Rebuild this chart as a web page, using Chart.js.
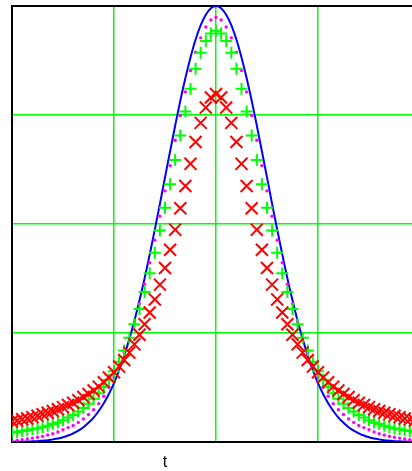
<!doctype html>
<html lang="en">
  <head>
    <title>Pulse shapes</title>
    <meta charset="UTF-8" />
    <script src="https://cdn.jsdelivr.net/npm/chart.js"></script>
    <style>
      html, body { margin: 0; padding: 0; overflow: hidden; background: #fff; }
      .wrap { position: relative; width: 430px; height: 471px; }
      .xlabel {
        position: absolute; left: 155px; top: 453px; width: 20px; text-align: center;
        font-family: 'Liberation Sans', Arial, sans-serif; font-size: 16px; color: #000;
      }
    </style>
  </head>
  <body>
    <div class="wrap">
      <canvas id="chart"></canvas>
      <div class="xlabel">t</div>
    </div>

    <script>
      // sample points along t
      const tValues = [
        -2, -1.95, -1.9, -1.85, -1.8, -1.75, -1.7, -1.65, -1.6, -1.55,
        -1.5, -1.45, -1.4, -1.35, -1.3, -1.25, -1.2, -1.15, -1.1, -1.05,
        -1, -0.95, -0.9, -0.85, -0.8, -0.75, -0.7, -0.65, -0.6, -0.55,
        -0.5, -0.45, -0.4, -0.35, -0.3, -0.25, -0.2, -0.15, -0.1, -0.05,
        0,
        0.05, 0.1, 0.15, 0.2, 0.25, 0.3, 0.35, 0.4, 0.45, 0.5,
        0.55, 0.6, 0.65, 0.7, 0.75, 0.8, 0.85, 0.9, 0.95, 1,
        1.05, 1.1, 1.15, 1.2, 1.25, 1.3, 1.35, 1.4, 1.45, 1.5,
        1.55, 1.6, 1.65, 1.7, 1.75, 1.8, 1.85, 1.9, 1.95, 2,
      ]

      // blue solid line
      const blueLine = [
        0.0003, 0.0005, 0.0007, 0.001, 0.0015, 0.002, 0.003, 0.004, 0.006, 0.008,
        0.011, 0.015, 0.02, 0.026, 0.034, 0.044, 0.056, 0.071, 0.089, 0.11,
        0.135, 0.164, 0.198, 0.236, 0.278, 0.325, 0.375, 0.43, 0.487, 0.546,
        0.607, 0.667, 0.726, 0.783, 0.835, 0.882, 0.923, 0.956, 0.98, 0.995,
        1,
        0.995, 0.98, 0.956, 0.923, 0.882, 0.835, 0.783, 0.726, 0.667, 0.607,
        0.546, 0.487, 0.43, 0.375, 0.325, 0.278, 0.236, 0.198, 0.164, 0.135,
        0.11, 0.089, 0.071, 0.056, 0.044, 0.034, 0.026, 0.02, 0.015, 0.011,
        0.008, 0.006, 0.004, 0.003, 0.002, 0.0015, 0.001, 0.0007, 0.0005, 0.0003,
      ]

      // magenta dots
      const magentaDots = [
        0.003, 0.004, 0.005, 0.007, 0.009, 0.011, 0.013, 0.016, 0.019, 0.023,
        0.028, 0.033, 0.038, 0.045, 0.053, 0.063, 0.074, 0.088, 0.105, 0.126,
        0.149, 0.175, 0.204, 0.238, 0.276, 0.317, 0.362, 0.411, 0.463, 0.518,
        0.576, 0.634, 0.692, 0.749, 0.803, 0.852, 0.894, 0.927, 0.952, 0.968,
        0.974,
        0.968, 0.952, 0.927, 0.894, 0.852, 0.803, 0.749, 0.692, 0.634, 0.576,
        0.518, 0.463, 0.411, 0.362, 0.317, 0.276, 0.238, 0.204, 0.175, 0.149,
        0.126, 0.105, 0.088, 0.074, 0.063, 0.053, 0.045, 0.038, 0.033, 0.028,
        0.023, 0.019, 0.016, 0.013, 0.011, 0.009, 0.007, 0.005, 0.004, 0.003,
      ]

      // green plus markers
      const greenPlus = [
        0.022, 0.023, 0.025, 0.027, 0.029, 0.031, 0.034, 0.037, 0.041, 0.045,
        0.05, 0.056, 0.062, 0.07, 0.078, 0.088, 0.099, 0.112, 0.126, 0.143,
        0.162, 0.184, 0.21, 0.239, 0.27, 0.305, 0.344, 0.387, 0.434, 0.485,
        0.537, 0.591, 0.647, 0.703, 0.758, 0.81, 0.856, 0.893, 0.92, 0.937,
        0.943,
        0.937, 0.92, 0.893, 0.856, 0.81, 0.758, 0.703, 0.647, 0.591, 0.537,
        0.485, 0.434, 0.387, 0.344, 0.305, 0.27, 0.239, 0.21, 0.184, 0.162,
        0.143, 0.126, 0.112, 0.099, 0.088, 0.078, 0.07, 0.062, 0.056, 0.05,
        0.045, 0.041, 0.037, 0.034, 0.031, 0.029, 0.027, 0.025, 0.023, 0.022,
      ]

      // red x markers
      const redCross = [
        0.047, 0.049, 0.052, 0.054, 0.057, 0.06, 0.064, 0.067, 0.071, 0.075,
        0.08, 0.085, 0.09, 0.096, 0.103, 0.11, 0.118, 0.127, 0.137, 0.148,
        0.16, 0.173, 0.188, 0.205, 0.224, 0.246, 0.27, 0.297, 0.327, 0.361,
        0.399, 0.441, 0.487, 0.536, 0.587, 0.638, 0.688, 0.732, 0.767, 0.79,
        0.798,
        0.79, 0.767, 0.732, 0.688, 0.638, 0.587, 0.536, 0.487, 0.441, 0.399,
        0.361, 0.327, 0.297, 0.27, 0.246, 0.224, 0.205, 0.188, 0.173, 0.16,
        0.148, 0.137, 0.127, 0.118, 0.11, 0.103, 0.096, 0.09, 0.085, 0.08,
        0.075, 0.071, 0.067, 0.064, 0.06, 0.057, 0.054, 0.052, 0.049, 0.047,
      ]

      const xGridTicks = [-2, -1, 0, 1, 2]
      const yGridTicks = [0, 0.25, 0.5, 0.75, 1]

      const toPoints = (ys) => tValues.map((t, i) => ({ x: t, y: ys[i] }))

      new Chart(document.getElementById('chart'), {
        type: 'scatter',
        data: {
          datasets: [
            {
              label: 'red',
              data: toPoints(redCross),
              order: 0,
              showLine: false,
              pointStyle: 'crossRot',
              pointRadius: 8.5,
              borderColor: '#ff0000',
              backgroundColor: '#ff0000',
              pointBorderWidth: 2,
            },
            {
              label: 'green',
              data: toPoints(greenPlus),
              order: 1,
              showLine: false,
              pointStyle: 'cross',
              pointRadius: 6,
              borderColor: '#00ff00',
              backgroundColor: '#00ff00',
              pointBorderWidth: 2,
            },
            {
              label: 'magenta',
              data: toPoints(magentaDots),
              order: 2,
              showLine: false,
              pointStyle: 'circle',
              pointRadius: 1.7,
              borderColor: '#ff00ff',
              backgroundColor: '#ff00ff',
              pointBorderWidth: 0,
            },
            {
              label: 'blue',
              data: toPoints(blueLine),
              order: 3,
              showLine: true,
              pointRadius: 0,
              borderColor: '#0000ff',
              borderWidth: 2,
              cubicInterpolationMode: 'monotone',
            },
          ],
        },
        options: {
          responsive: true,
          maintainAspectRatio: false,
          animation: false,
          layout: { autoPadding: false, padding: { left: 12, top: 6, right: 10, bottom: 29 } },
          plugins: { legend: { display: false }, tooltip: { enabled: false } },
          scales: {
            x: {
              type: 'linear',
              min: -2,
              max: 2,
              afterBuildTicks: (axis) => {
                axis.ticks = xGridTicks.map((v) => ({ value: v }))
              },
              ticks: { display: false },
              grid: { drawTicks: false, color: '#00ff00', lineWidth: 1.5 },
              border: { display: true, color: '#000', width: 2 },
            },
            y: {
              type: 'linear',
              min: 0,
              max: 1,
              afterBuildTicks: (axis) => {
                axis.ticks = yGridTicks.map((v) => ({ value: v }))
              },
              ticks: { display: false },
              grid: {
                drawTicks: false,
                color: (ctx) => (ctx.tick && ctx.tick.value === 1 ? '#000' : '#00ff00'),
                lineWidth: (ctx) => (ctx.tick && ctx.tick.value === 1 ? 2 : 1.5),
              },
              border: { display: true, color: '#000', width: 2 },
            },
          },
        },
      })
    </script>
  </body>
</html>
